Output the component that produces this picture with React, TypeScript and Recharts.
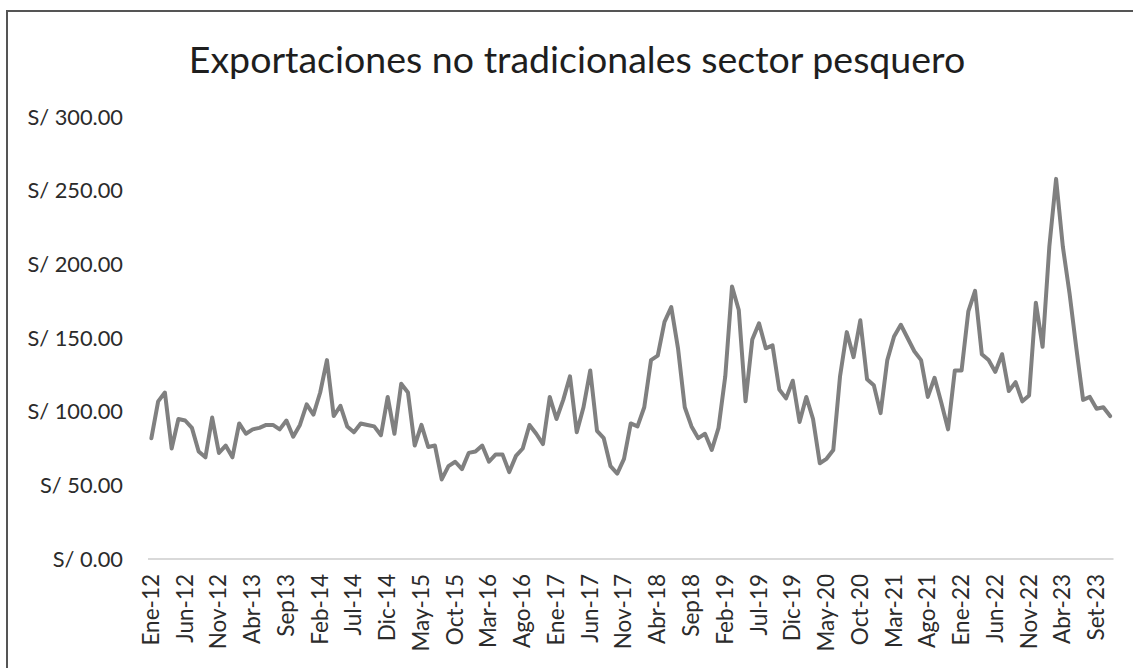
import React from "react";
import { LineChart, Line, XAxis, YAxis } from "recharts";

// meses y años del periodo
const mesesCortos = ["Ene", "Feb", "Mar", "Abr", "May", "Jun", "Jul", "Ago", "Sep", "Oct", "Nov", "Dic"];
const anios = ["12", "13", "14", "15", "16", "17", "18", "19", "20", "21", "22", "23"];

// etiquetas que en el original se escriben distinto
const etiquetasEspeciales: Record<string, string> = {
  "Sep-13": "Sep13",
  "Sep-18": "Sep18",
  "Sep-23": "Set-23",
};

// millones de soles, Ene-12 a Nov-23
const exportaciones = [
  82, 107, 113, 75, 95, 94, 89, 73, 69, 96, 72, 77,
  69, 92, 85, 88, 89, 91, 91, 88, 94, 83, 91, 105,
  98, 113, 135, 97, 104, 90, 86, 92, 91, 90, 84, 110,
  85, 119, 113, 77, 91, 76, 77, 54, 63, 66, 61, 72,
  73, 77, 66, 71, 71, 59, 70, 75, 91, 85, 78, 110,
  95, 108, 124, 86, 103, 128, 87, 82, 63, 58, 68, 92,
  90, 103, 135, 138, 161, 171, 143, 103, 90, 82, 85, 74,
  89, 124, 185, 169, 107, 149, 160, 143, 145, 115, 109, 121,
  93, 110, 95, 65, 68, 74, 124, 154, 137, 162, 122, 118,
  99, 135, 151, 159, 150, 141, 135, 110, 123, 106, 88, 128,
  128, 168, 182, 139, 135, 127, 139, 114, 120, 107, 111, 174,
  144, 212, 258, 212, 180, 143, 108, 110, 102, 103, 97,
];

const yTicks = [0, 50, 100, 150, 200, 250, 300];

const categorias = anios.flatMap((a) => mesesCortos.map((m) => `${m}-${a}`));
const data = exportaciones.map((valor, i) => ({ mes: categorias[i], valor }));

const FUENTE = "Lato, 'Open Sans', sans-serif";
const GRIS_TEXTO = "#2b2b2b";

const XTick = ({ x, y, payload }: any) => (
  <text
    x={0}
    y={0}
    transform={`translate(${x + 7.5},${y + 15}) rotate(-90)`}
    textAnchor="end"
    fontSize={22.5}
    fill={GRIS_TEXTO}
    fontFamily={FUENTE}
  >
    {etiquetasEspeciales[payload.value] ?? payload.value}
  </text>
);

export default function App() {
  return (
    <div
      style={{
        position: "fixed",
        left: 0,
        top: 0,
        width: 1133,
        height: 668,
        overflow: "hidden",
        background: "#fff",
        fontFamily: FUENTE,
      }}
    >
      <div style={{ position: "absolute", left: 0, top: 0 }}>
        <LineChart
          width={1133}
          height={668}
          data={data}
          margin={{ top: 117, right: 19.5, bottom: 9, left: 0 }}
        >
          <XAxis
            dataKey="mes"
            interval={4}
            tick={<XTick />}
            tickLine={false}
            tickSize={0}
            tickMargin={0}
            height={100}
            padding={{ left: 3.4, right: 3.4 }}
            axisLine={{ stroke: "#d9d9d9", strokeWidth: 2 }}
          />
          <YAxis
            width={148}
            domain={[0, 300]}
            ticks={yTicks}
            axisLine={false}
            tickLine={false}
            tickSize={0}
            tickMargin={25}
            tickFormatter={(v: number) => `S/ ${v.toFixed(2)}`}
            tick={{ fontSize: 21.8, fill: GRIS_TEXTO, fontFamily: FUENTE }}
          />
          <Line
            type="linear"
            dataKey="valor"
            stroke="#808080"
            strokeWidth={4}
            strokeLinejoin="round"
            strokeLinecap="round"
            dot={false}
            activeDot={false}
            isAnimationActive={false}
          />
        </LineChart>
      </div>
      <div
        style={{
          position: "absolute",
          left: 0,
          width: 1154,
          top: 40,
          textAlign: "center",
          fontSize: 37.5,
          lineHeight: 1,
          color: "#1e1e1e",
        }}
      >
        Exportaciones no tradicionales sector pesquero
      </div>
      {/* marco del gráfico: solo se ven el borde superior y el izquierdo */}
      <div
        style={{
          position: "absolute",
          left: 6,
          top: 10,
          width: 1300,
          height: 900,
          boxSizing: "border-box",
          borderTop: "2px solid #555",
          borderLeft: "2px solid #555",
          pointerEvents: "none",
        }}
      />
    </div>
  );
}
